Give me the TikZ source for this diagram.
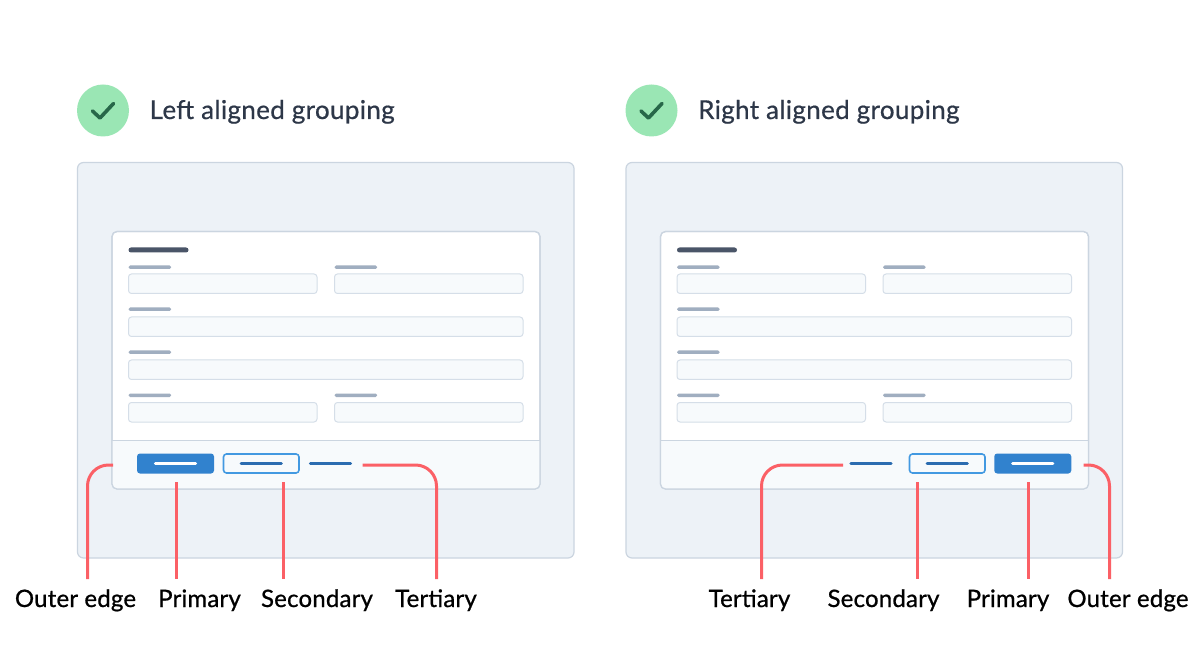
\documentclass[tikz,border=0pt]{standalone}
\usepackage{fontspec}
\setmainfont{Lato}
\newfontfamily\headfont[FakeBold=0.6,LetterSpace=1.3]{Lato}
\newfontfamily\tagfont[FakeBold=0.8,LetterSpace=0.8]{Lato}
\definecolor{panelfill}{HTML}{EDF2F7}
\definecolor{panelline}{HTML}{CBD5E0}
\definecolor{footfill}{HTML}{F7FAFC}
\definecolor{fieldline}{HTML}{D5DEE8}
\definecolor{labelbar}{HTML}{A0AEC0}
\definecolor{titlebar}{HTML}{4A5568}
\definecolor{primaryblue}{HTML}{3182CE}
\definecolor{secline}{HTML}{4299E1}
\definecolor{darkblue}{HTML}{2B6CB0}
\definecolor{callout}{HTML}{FB6066}
\definecolor{headtext}{HTML}{2D3748}
\definecolor{okgreen}{HTML}{9AE6B4}
\definecolor{okdark}{HTML}{276749}
\tikzset{
  panelbox/.style={draw=panelline,fill=panelfill,line width=1.2pt,rounded corners=6pt},
  cardbox/.style={draw=panelline,fill=white,line width=1.2pt,rounded corners=5pt},
  fieldbox/.style={draw=fieldline,fill=footfill,line width=1pt,rounded corners=3pt},
  labelpill/.style={draw=none,fill=labelbar,rounded corners=1.5pt},
  titlepill/.style={draw=none,fill=titlebar,rounded corners=2.5pt},
  primarybtn/.style={draw=none,fill=primaryblue,rounded corners=3pt},
  secondarybtn/.style={draw=secline,fill=footfill,line width=1.6pt,rounded corners=3pt},
  dashbar/.style={line width=3.4pt,line cap=round},
  calloutline/.style={draw=callout,line width=3pt,rounded corners=21pt},
  heading/.style={font=\headfont\fontsize{26}{30}\selectfont,text=headtext,anchor=base west,inner sep=0pt},
  tag/.style={font=\tagfont\fontsize{24}{28}\selectfont,text=black,anchor=base,inner sep=0pt},
}
\newcommand{\formpanel}[2]{%
\begin{scope}[xshift=#1pt]
  \path[panelbox] (77.5,162.5) rectangle (574,558);
  \path[cardbox] (112,231.5) rectangle (540,489);
  \begin{scope}
    \clip[rounded corners=5pt] (112,231.5) rectangle (540,489);
    \fill[footfill] (112,440) rectangle (540,489);
  \end{scope}
  \draw[panelline,line width=1.2pt,rounded corners=5pt] (112,231.5) rectangle (540,489);
  \draw[panelline,line width=1pt] (112,440) -- (540,440);
  \path[titlepill] (128.5,247.5) rectangle (188.5,252.5);
  \foreach \y in {265.5,393.5}{
    \path[labelpill] (128.5,\y) rectangle (171,\y+3.5);
    \path[labelpill] (334.5,\y) rectangle (377,\y+3.5);
  }
  \foreach \y in {307.5,350.5}{
    \path[labelpill] (128.5,\y) rectangle (171,\y+3.5);
  }
  \foreach \y in {274,402.5}{
    \path[fieldbox] (128.5,\y) rectangle (317,\y+19.5);
    \path[fieldbox] (334.5,\y) rectangle (523,\y+19.5);
  }
  \foreach \y in {317,360}{
    \path[fieldbox] (128.5,\y) rectangle (523,\y+19.5);
  }
  \node[circle,fill=okgreen,draw=none,minimum size=52pt,inner sep=0pt] (#2disc) at (103,110.5) {};
  \draw[okdark,line width=3.6pt,line cap=round,line join=round] (92.5,111) -- (100,118) -- (113.5,103.5);
\end{scope}}
\begin{document}
\begin{tikzpicture}[x=1pt,y=-1pt]
\useasboundingbox (0,0) rectangle (1200,660);
\fill[white] (0,0) rectangle (1200,660);
\formpanel{0}{L}
\formpanel{548.5}{R}
\node[heading] (lhead) at (149.5,119) {Left aligned grouping};
\node[heading] (rhead) at (698,119) {Right aligned grouping};

% left buttons
\node[primarybtn,minimum width=77pt,minimum height=20pt,inner sep=0pt] (lprim) at (175.5,463.5) {};
\node[secondarybtn,minimum width=75.5pt,minimum height=19pt,inner sep=0pt] (lsec) at (261.25,463.5) {};
\draw[white,dashbar] ([xshift=-20pt]lprim.center) -- ([xshift=20pt]lprim.center);
\draw[darkblue,dashbar] ([xshift=-20pt]lsec.center) -- ([xshift=20pt]lsec.center);
\draw[darkblue,dashbar] (310.5,463.5) -- (350.5,463.5);

% right buttons
\node[primarybtn,minimum width=77pt,minimum height=20pt,inner sep=0pt] (rprim) at (1032.75,463.5) {};
\node[secondarybtn,minimum width=75.5pt,minimum height=19pt,inner sep=0pt] (rsec) at (947.25,463.5) {};
\draw[white,dashbar] ([xshift=-20pt]rprim.center) -- ([xshift=20pt]rprim.center);
\draw[darkblue,dashbar] ([xshift=-20pt]rsec.center) -- ([xshift=20pt]rsec.center);
\draw[darkblue,dashbar] (851,463.5) -- (891,463.5);

% tags
\node[tag] (t1) at (75.5,607) {Outer edge};
\node[tag] (t2) at (199.5,607) {Primary};
\node[tag] (t3) at (317,607) {Secondary};
\node[tag] (t4) at (436,607) {Tertiary};
\node[tag] (t5) at (749.5,607) {Tertiary};
\node[tag] (t6) at (883.5,607) {Secondary};
\node[tag] (t7) at (1008,607) {Primary};
\node[tag] (t8) at (1128,607) {Outer edge};

% callouts
\coordinate (a1) at (113,465); \coordinate (b1) at (87.5,579);
\coordinate (a2) at (176.5,482); \coordinate (b2) at (176.5,579);
\coordinate (a3) at (283.5,482); \coordinate (b3) at (283.5,579);
\coordinate (a4) at (362.5,465); \coordinate (b4) at (436.5,579);
\coordinate (a5) at (843,465); \coordinate (b5) at (761.5,579);
\coordinate (a6) at (917,482); \coordinate (b6) at (917,579);
\coordinate (a7) at (1028.5,482); \coordinate (b7) at (1028.5,579);
\coordinate (a8) at (1083.5,465); \coordinate (b8) at (1109.5,579);
\draw[calloutline] (a1) -| (b1);
\draw[calloutline] (a2) -- (b2);
\draw[calloutline] (a3) -- (b3);
\draw[calloutline] (a4) -| (b4);
\draw[calloutline] (a5) -| (b5);
\draw[calloutline] (a6) -- (b6);
\draw[calloutline] (a7) -- (b7);
\draw[calloutline] (a8) -| (b8);
\end{tikzpicture}
\end{document}
